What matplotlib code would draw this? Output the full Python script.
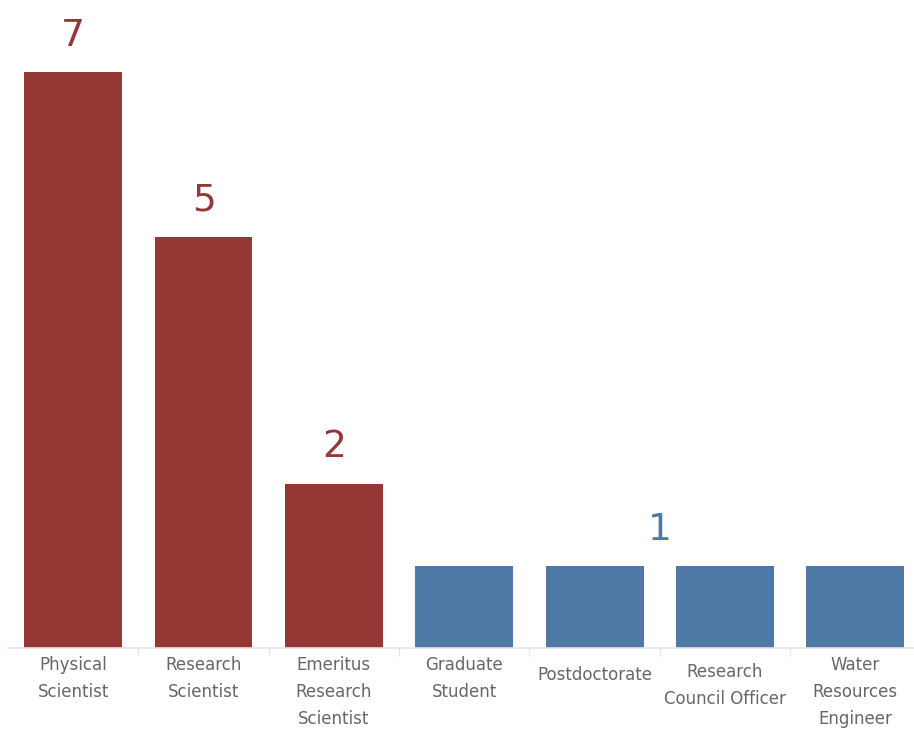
import numpy as np
import matplotlib.pyplot as plt
from matplotlib import transforms

roles = ['Physical\nScientist', 'Research\nScientist', 'Emeritus\nResearch\nScientist',
         'Graduate\nStudent', 'Postdoctorate', 'Research\nCouncil Officer',
         'Water\nResources\nEngineer']
counts = [7, 5, 2, 1, 1, 1, 1]
groups = ['top', 'top', 'top', 'rest', 'rest', 'rest', 'rest']

colors = {'top': '#953735', 'rest': '#4e79a7'}
# small vertical nudges for a few labels (points)
label_shift = [0, 0, 0, 0, -7, -5, 0]

fig = plt.figure(figsize=(9.14, 7.31), dpi=100)
ax = fig.add_axes([8 / 914, 1 - 648 / 731, 906 / 914, 648 / 731])

x = np.arange(len(roles))
bar_colors = [colors[g] for g in groups]
ax.bar(x, counts, width=0.75, color=bar_colors, zorder=2)

ax.set_xlim(-0.5, len(roles) - 0.55)
ax.set_ylim(0, 7.88)

# value labels: one per red bar, one for the whole blue group
for i, (c, g) in enumerate(zip(counts, groups)):
    if g == 'top':
        ax.annotate(str(c), (i, c), xytext=(0, 13), textcoords='offset points',
                    ha='center', va='bottom', fontsize=27, color=colors[g])
rest = [i for i, g in enumerate(groups) if g == 'rest']
rest_val = counts[rest[0]]
ax.annotate(str(rest_val), (np.mean(rest), rest_val), xytext=(0, 13),
            textcoords='offset points', ha='center', va='bottom',
            fontsize=27, color=colors['rest'])

for s in ['top', 'right', 'left']:
    ax.spines[s].set_visible(False)
ax.spines['bottom'].set_color('#e6e6e6')
ax.spines['bottom'].set_linewidth(1.2)
ax.set_yticks([])

# separators between categories
ax.set_xticks(x[:-1] + 0.5)
ax.set_xticklabels([])
ax.tick_params(axis='x', length=6, width=1, color='#e6e6e6')

trans = transforms.blended_transform_factory(ax.transData, ax.transAxes)
for i, name in enumerate(roles):
    off = transforms.offset_copy(trans, fig=fig, x=0, y=-6 + label_shift[i], units='points')
    ax.text(i, 0, name, transform=off, ha='center', va='top', fontsize=12,
            color='#666666', linespacing=1.62)

fig.savefig('out.png', dpi=100)
plt.close(fig)
